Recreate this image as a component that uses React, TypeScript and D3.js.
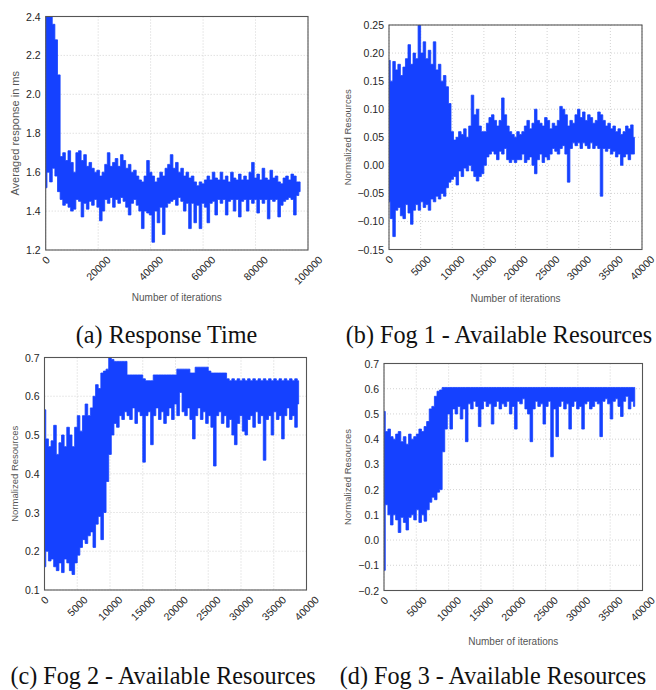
import * as d3 from "d3";

// (a) response time, one high/low pair every 1000 iterations
const aStep = 1000;
const aHi = [2.45, 2.45, 2.42, 2.36, 2.28, 2.10, 1.68, 1.70, 1.66, 1.71, 1.65, 1.60, 1.70, 1.71, 1.66, 1.69, 1.63, 1.65, 1.62, 1.60,
  1.61, 1.58, 1.60, 1.64, 1.70, 1.63, 1.65, 1.67, 1.63, 1.69, 1.66, 1.62, 1.64, 1.60, 1.61, 1.58, 1.56, 1.55, 1.58, 1.66,
  1.60, 1.58, 1.55, 1.57, 1.60, 1.58, 1.62, 1.64, 1.69, 1.62, 1.65, 1.60, 1.62, 1.58, 1.60, 1.57, 1.58, 1.55, 1.53, 1.55,
  1.54, 1.56, 1.58, 1.56, 1.60, 1.57, 1.56, 1.60, 1.56, 1.58, 1.55, 1.60, 1.57, 1.56, 1.59, 1.56, 1.58, 1.56, 1.60, 1.65,
  1.57, 1.59, 1.56, 1.62, 1.57, 1.56, 1.61, 1.57, 1.58, 1.55, 1.54, 1.57, 1.58, 1.56, 1.59, 1.58, 1.55, 1.55];
const aLo = [1.52, 1.60, 1.55, 1.62, 1.58, 1.50, 1.46, 1.43, 1.44, 1.42, 1.40, 1.41, 1.46, 1.45, 1.37, 1.44, 1.41, 1.45, 1.43, 1.46,
  1.42, 1.35, 1.40, 1.46, 1.44, 1.47, 1.42, 1.46, 1.44, 1.47, 1.45, 1.42, 1.38, 1.44, 1.46, 1.43, 1.40, 1.31, 1.40, 1.39,
  1.38, 1.24, 1.40, 1.34, 1.42, 1.28, 1.42, 1.44, 1.45, 1.46, 1.43, 1.47, 1.45, 1.40, 1.44, 1.31, 1.44, 1.34, 1.43, 1.31,
  1.44, 1.42, 1.34, 1.44, 1.45, 1.38, 1.46, 1.44, 1.46, 1.38, 1.45, 1.46, 1.40, 1.46, 1.37, 1.45, 1.46, 1.40, 1.46, 1.44,
  1.46, 1.39, 1.46, 1.44, 1.46, 1.36, 1.46, 1.45, 1.46, 1.37, 1.43, 1.45, 1.46, 1.47, 1.46, 1.38, 1.48, 1.50];

// (b)-(d) fog resources, one high/low pair every 400 iterations
const fogStep = 400;
const bHi = [0.187, 0.15, 0.185, 0.17, 0.18, 0.16, 0.175, 0.19, 0.215, 0.18, 0.20, 0.19, 0.25, 0.20, 0.22, 0.19, 0.205, 0.18, 0.22, 0.17,
  0.18, 0.15, 0.16, 0.14, 0.11, 0.06, 0.045, 0.05, 0.06, 0.055, 0.065, 0.05, 0.07, 0.125, 0.09, 0.10, 0.07, 0.06, 0.06, 0.075,
  0.085, 0.09, 0.08, 0.07, 0.08, 0.12, 0.09, 0.07, 0.06, 0.055, 0.05, 0.06, 0.055, 0.06, 0.07, 0.08, 0.065, 0.075, 0.10, 0.08,
  0.075, 0.07, 0.085, 0.08, 0.065, 0.075, 0.07, 0.08, 0.105, 0.10, 0.09, 0.07, 0.08, 0.075, 0.09, 0.10, 0.085, 0.095, 0.08, 0.09,
  0.085, 0.075, 0.08, 0.095, 0.09, 0.08, 0.07, 0.075, 0.065, 0.07, 0.06, 0.065, 0.055, 0.06, 0.07, 0.065, 0.072, 0.05];
const bLo = [-0.065, -0.095, -0.127, -0.08, -0.075, -0.09, -0.095, -0.07, -0.085, -0.105, -0.08, -0.07, -0.08, -0.065, -0.075, -0.07, -0.08, -0.06, -0.065, -0.055,
  -0.06, -0.05, -0.055, -0.04, -0.03, -0.025, -0.02, -0.035, -0.01, -0.02, -0.005, -0.01, 0.0, -0.01, -0.02, -0.028, -0.02, -0.015, 0.0, 0.015,
  0.02, 0.025, 0.02, 0.01, 0.025, 0.02, 0.03, 0.01, 0.005, 0.01, 0.005, 0.01, 0.01, 0.02, 0.005, 0.01, 0.015, 0.0, -0.015, 0.01,
  0.02, 0.005, 0.015, 0.01, 0.02, 0.03, 0.025, 0.02, 0.03, 0.035, 0.02, -0.03, 0.03, 0.04, 0.035, 0.04, 0.03, 0.04, 0.035, 0.03,
  0.04, 0.03, 0.035, 0.03, -0.055, 0.03, 0.025, 0.03, 0.02, 0.025, 0.015, 0.02, 0.0, 0.015, 0.02, 0.01, 0.02, 0.02];

const cHi = [0.565, 0.49, 0.47, 0.485, 0.525, 0.45, 0.48, 0.50, 0.47, 0.52, 0.50, 0.47, 0.52, 0.55, 0.51, 0.55, 0.58, 0.55, 0.57, 0.60,
  0.63, 0.62, 0.66, 0.665, 0.67, 0.70, 0.695, 0.69, 0.69, 0.69, 0.69, 0.69, 0.655, 0.655, 0.655, 0.655, 0.655, 0.655, 0.645, 0.64,
  0.64, 0.64, 0.655, 0.655, 0.655, 0.655, 0.655, 0.655, 0.655, 0.655, 0.655, 0.67, 0.67, 0.67, 0.67, 0.67, 0.66, 0.66, 0.675, 0.675,
  0.675, 0.675, 0.675, 0.665, 0.66, 0.66, 0.66, 0.66, 0.66, 0.66, 0.645, 0.64, 0.645, 0.64, 0.645, 0.64, 0.645, 0.64, 0.645, 0.64,
  0.645, 0.64, 0.645, 0.64, 0.645, 0.64, 0.645, 0.64, 0.645, 0.64, 0.645, 0.64, 0.645, 0.64, 0.645, 0.64, 0.645, 0.64];
const cLo = [0.16, 0.20, 0.175, 0.18, 0.16, 0.15, 0.17, 0.145, 0.18, 0.17, 0.15, 0.14, 0.17, 0.19, 0.21, 0.23, 0.22, 0.24, 0.25, 0.21,
  0.27, 0.29, 0.23, 0.30, 0.38, 0.45, 0.50, 0.53, 0.52, 0.55, 0.54, 0.56, 0.55, 0.54, 0.57, 0.53, 0.56, 0.55, 0.43, 0.55,
  0.56, 0.475, 0.55, 0.57, 0.54, 0.56, 0.53, 0.55, 0.57, 0.54, 0.58, 0.55, 0.61, 0.56, 0.55, 0.57, 0.54, 0.49, 0.55, 0.57,
  0.54, 0.56, 0.53, 0.55, 0.52, 0.42, 0.55, 0.56, 0.53, 0.55, 0.52, 0.54, 0.50, 0.475, 0.53, 0.55, 0.51, 0.50, 0.54, 0.55,
  0.52, 0.56, 0.53, 0.55, 0.435, 0.54, 0.55, 0.50, 0.56, 0.54, 0.55, 0.49, 0.55, 0.57, 0.54, 0.55, 0.52, 0.58];

const dHi = [0.51, 0.43, 0.44, 0.41, 0.40, 0.42, 0.43, 0.39, 0.41, 0.38, 0.42, 0.40, 0.41, 0.42, 0.44, 0.43, 0.45, 0.47, 0.52, 0.53,
  0.57, 0.59, 0.595, 0.605, 0.605, 0.605, 0.605, 0.605, 0.605, 0.605, 0.605, 0.605, 0.605, 0.605, 0.605, 0.605, 0.605, 0.605, 0.605, 0.605,
  0.605, 0.605, 0.605, 0.605, 0.605, 0.605, 0.605, 0.605, 0.605, 0.605, 0.605, 0.605, 0.605, 0.605, 0.605, 0.605, 0.605, 0.605, 0.605, 0.605,
  0.605, 0.605, 0.605, 0.605, 0.605, 0.605, 0.605, 0.605, 0.605, 0.605, 0.605, 0.605, 0.605, 0.605, 0.605, 0.605, 0.605, 0.605, 0.605, 0.605,
  0.605, 0.605, 0.605, 0.605, 0.605, 0.605, 0.605, 0.605, 0.605, 0.605, 0.605, 0.605, 0.605, 0.605, 0.605, 0.605, 0.605, 0.605];
const dLo = [-0.12, 0.14, 0.10, 0.06, 0.10, 0.08, 0.03, 0.09, 0.07, 0.04, 0.09, 0.10, 0.08, 0.12, 0.07, 0.10, 0.075, 0.12, 0.15, 0.17,
  0.16, 0.19, 0.20, 0.35, 0.44, 0.50, 0.44, 0.52, 0.50, 0.53, 0.48, 0.52, 0.39, 0.54, 0.52, 0.55, 0.53, 0.45, 0.52, 0.55,
  0.53, 0.54, 0.46, 0.53, 0.55, 0.52, 0.54, 0.53, 0.55, 0.50, 0.53, 0.44, 0.55, 0.54, 0.56, 0.52, 0.50, 0.39, 0.52, 0.55,
  0.53, 0.54, 0.46, 0.53, 0.55, 0.33, 0.52, 0.41, 0.53, 0.55, 0.52, 0.54, 0.44, 0.53, 0.55, 0.52, 0.53, 0.44, 0.54, 0.55,
  0.52, 0.53, 0.55, 0.54, 0.41, 0.55, 0.56, 0.54, 0.48, 0.55, 0.56, 0.53, 0.49, 0.55, 0.57, 0.52, 0.55, 0.53];

const xLabel = "Number of iterations";
const blue = "#1541ff";

type PanelCfg = {
  id: string; left: number; top: number; right: number; bottom: number;
  xMax: number; xTick: number; yMin: number; yMax: number; yTick: number; yFmt: string;
  yLabel: string; yLabelX: number; yLabelSize: number; showX: boolean; xLabelY: number;
  hi: number[]; lo: number[]; step: number; caption: string; capX: number; capY: number;
};

const panels: PanelCfg[] = [
  {id: "a", left: 45.7, top: 16.5, right: 308, bottom: 250, xMax: 100000, xTick: 20000, yMin: 1.2, yMax: 2.4, yTick: 0.2, yFmt: ".1f",
    yLabel: "Averaged response in ms", yLabelX: 15, yLabelSize: 11, showX: true, xLabelY: 297,
    hi: aHi, lo: aLo, step: aStep, caption: "(a) Response Time", capX: 166.5, capY: 343},
  {id: "b", left: 389, top: 25, right: 642, bottom: 249.5, xMax: 40000, xTick: 5000, yMin: -0.15, yMax: 0.25, yTick: 0.05, yFmt: ".2f",
    yLabel: "Normalized Resources", yLabelX: 347, yLabelSize: 9.5, showX: true, xLabelY: 298,
    hi: bHi, lo: bLo, step: fogStep, caption: "(b) Fog 1 - Available Resources", capX: 499, capY: 343},
  {id: "c", left: 44.5, top: 357.5, right: 306.5, bottom: 590, xMax: 40000, xTick: 5000, yMin: 0.1, yMax: 0.7, yTick: 0.1, yFmt: ".1f",
    yLabel: "Normalized Resources", yLabelX: 14, yLabelSize: 9.5, showX: false, xLabelY: 0,
    hi: cHi, lo: cLo, step: fogStep, caption: "(c) Fog 2 - Available Resources", capX: 163, capY: 684},
  {id: "d", left: 384, top: 363.5, right: 642.5, bottom: 590.5, xMax: 40000, xTick: 5000, yMin: -0.2, yMax: 0.7, yTick: 0.1, yFmt: ".1f",
    yLabel: "Normalized Resources", yLabelX: 347, yLabelSize: 9.5, showX: true, xLabelY: 641,
    hi: dHi, lo: dLo, step: fogStep, caption: "(d) Fog 3 - Available Resources", capX: 493, capY: 684},
];

const tickFs = 10.5;

function Panel({p}: {p: PanelCfg}) {
  const x = d3.scaleLinear().domain([0, p.xMax]).range([p.left, p.right]);
  const y = d3.scaleLinear().domain([p.yMin, p.yMax]).range([p.bottom, p.top]);
  const xTicks = d3.range(0, p.xMax + 1, p.xTick);
  const nY = Math.round((p.yMax - p.yMin) / p.yTick);
  const yTicks = d3.range(nY + 1).map((i) => p.yMin + i * p.yTick);
  const fmt = d3.format(p.yFmt);
  // dense noisy trace: fill between the high and low reading of each step
  const area = d3.area<number>()
    .x((_, i) => x(i * p.step))
    .y0((_, i) => y(p.lo[i]))
    .y1((d) => y(d))
    .curve(d3.curveStep);
  const clipId = "clip-" + p.id;
  return (
    <g>
      <defs>
        <clipPath id={clipId}>
          <rect x={p.left} y={p.top} width={p.right - p.left} height={p.bottom - p.top} />
        </clipPath>
      </defs>
      <rect x={p.left} y={p.top} width={p.right - p.left} height={p.bottom - p.top} fill="#fff" />
      {xTicks.map((t) => (
        <line key={"gx" + t} x1={x(t)} x2={x(t)} y1={p.top} y2={p.bottom} stroke="#c8c8c8" strokeWidth={0.8} strokeDasharray="1,2" />
      ))}
      {yTicks.map((t, i) => (
        <line key={"gy" + i} x1={p.left} x2={p.right} y1={y(t)} y2={y(t)} stroke="#c8c8c8" strokeWidth={0.8} strokeDasharray="1,2" />
      ))}
      <path d={area(p.hi) || ""} fill={blue} stroke={blue} strokeWidth={0.8} clipPath={`url(#${clipId})`} />
      <rect x={p.left} y={p.top} width={p.right - p.left} height={p.bottom - p.top} fill="none" stroke="#555" strokeWidth={1.1} />
      {yTicks.map((t, i) => (
        <text key={"ty" + i} x={p.left - 5} y={y(t)} textAnchor="end" dominantBaseline="central" fontSize={tickFs} fill="#262626">
          {fmt(t)}
        </text>
      ))}
      {xTicks.map((t) => {
        const s = String(t);
        const w = s.length * 0.556 * tickFs;
        const cy = p.bottom + 4 + ((w + tickFs) * 0.7071) / 2;
        return (
          <text key={"tx" + t} transform={`translate(${x(t)},${cy}) rotate(-45)`} textAnchor="middle" dominantBaseline="central" fontSize={tickFs} fill="#262626">
            {s}
          </text>
        );
      })}
      <text transform={`translate(${p.yLabelX},${(p.top + p.bottom) / 2}) rotate(-90)`} textAnchor="middle" dominantBaseline="central" fontSize={p.yLabelSize} fill="#555">
        {p.yLabel}
      </text>
      {p.showX && (
        <text x={(p.left + p.right) / 2} y={p.xLabelY} textAnchor="middle" dominantBaseline="central" fontSize={10} fill="#555">
          {xLabel}
        </text>
      )}
      <text x={p.capX} y={p.capY} textAnchor="middle" fontFamily="'Liberation Serif', serif" fontSize={24.2} fill="#111">
        {p.caption}
      </text>
    </g>
  );
}

export default function App() {
  return (
    <svg width={656} height={690} style={{position: "absolute", left: 0, top: 0, background: "#fff"}}
      fontFamily="'Liberation Sans', Arial, sans-serif">
      {panels.map((p) => <Panel key={p.id} p={p} />)}
    </svg>
  );
}
